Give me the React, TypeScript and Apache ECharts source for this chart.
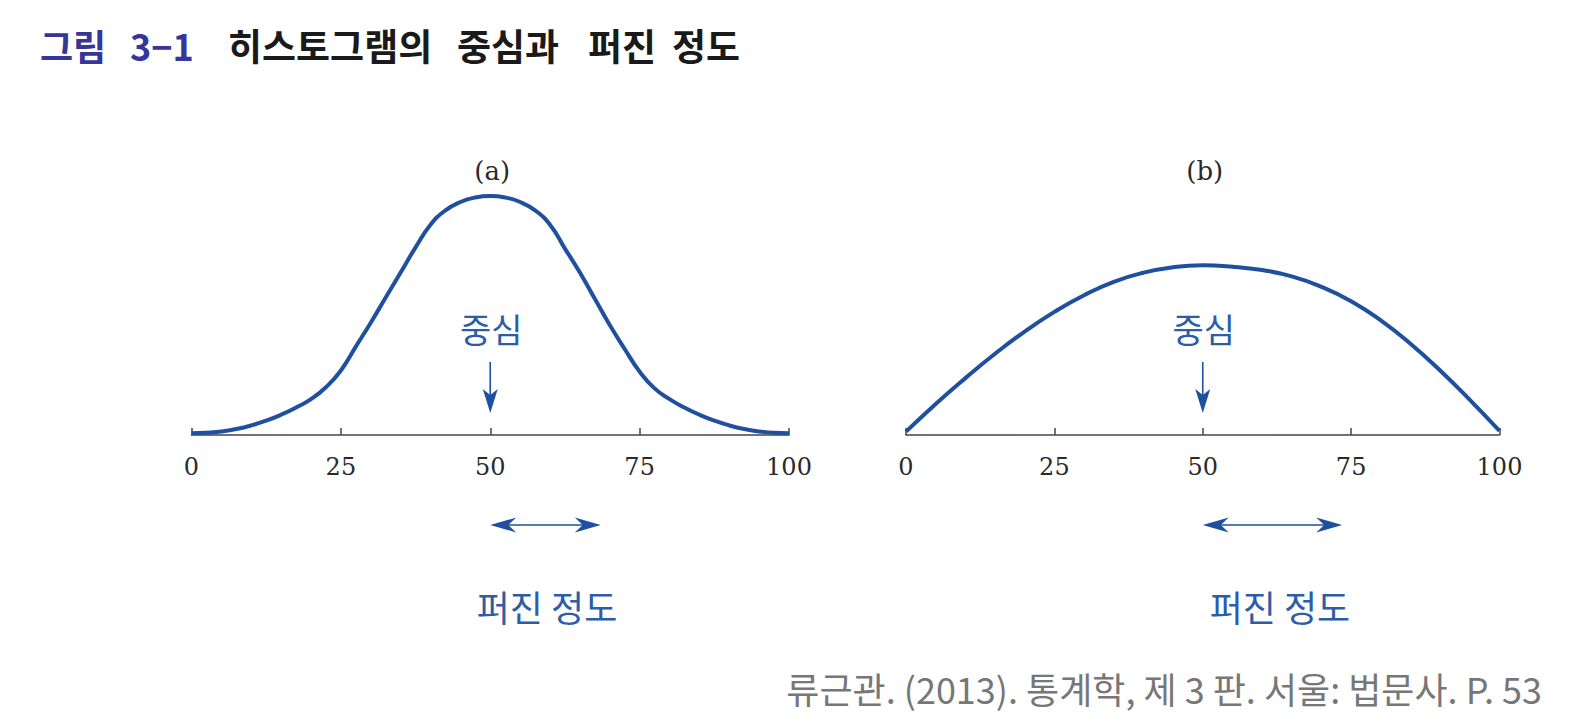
import React, { useEffect, useRef } from "react";
import * as echarts from "echarts";

const xsA = [
  0, 2.5, 5, 7.5, 10, 12.5, 15, 17.5, 20, 22.5, 25, 27.5, 30, 32.5, 35, 37.5, 40, 42.5, 45, 47.5, 50,
  52.5, 55, 57.5, 60, 62.5, 65, 67.5, 70, 72.5, 75, 77.5, 80, 82.5, 85, 87.5, 90, 92.5, 95, 97.5, 100,
];
const curveA = [
  0.7, 0.9, 1.5, 2.5, 4, 6, 8.5, 11.5, 15, 20, 27, 37, 47, 57.5, 68, 78.5, 88, 94, 97.5, 99.4, 100,
  99.4, 97.5, 94, 88, 78, 68, 57, 46, 36, 26.5, 19.5, 15, 11.5, 8.5, 6, 4, 2.5, 1.5, 0.9, 0.7,
];
const xsB = [0, 5, 10, 15, 20, 25, 30, 35, 40, 45, 50, 55, 60, 65, 70, 75, 80, 85, 90, 95, 100];
const curveB = [1.4, 13.0, 23.8, 34.0, 43.3, 51.5, 58.5, 64.1, 67.9, 70.2, 71, 70.4, 69.0, 66.4, 62.0, 56.0, 48.0, 38.2, 27.0, 14.7, 1.7];
const tickValues = [0, 25, 50, 75, 100];
const panelLabels = ["(a)", "(b)"];
const centerValue = 50;
const spreadA = [50, 68.5];
const spreadB = [50, 73.5];
const spreadLabelX = [59.5, 63];
const titleNo = ["그림", "3−1"];
const titleWords = ["히스토그램의", "중심과", "퍼진", "정도"];
const centerText = "중심";
const spreadText = "퍼진 정도";
const sourceText = "류근관. (2013). 통계학, 제 3 판. 서울: 법문사. P. 53";

const BLUE = "#1f4f9f";
const TBLUE = "#2d5ca8";
const KR = "'Noto Sans CJK KR', 'Noto Sans', sans-serif";
const SERIF = "'DejaVu Serif', 'Liberation Serif', serif";

export default function App() {
  const ref = useRef<HTMLDivElement>(null);
  useEffect(() => {
    document.body.style.margin = "0";
    const chart = echarts.init(ref.current!, null, { renderer: "svg" });
    const mkX = (i: number) => ({
      type: "value",
      gridIndex: i,
      min: 0,
      max: 100,
      interval: 25,
      axisLine: { show: true, onZero: false, lineStyle: { color: "#444", width: 1.5 } },
      axisTick: { show: true, inside: true, length: 7, lineStyle: { color: "#444", width: 1.5 } },
      axisLabel: {
        show: true,
        margin: 20,
        fontFamily: SERIF,
        fontSize: 24,
        color: "#2a2a2a",
        formatter: (v: number) => (tickValues.includes(v) ? String(v) : ""),
      },
      splitLine: { show: false },
    });
    const mkY = (i: number) => ({
      type: "value",
      gridIndex: i,
      min: 0,
      max: 100,
      show: false,
      splitLine: { show: false },
    });
    chart.setOption({
      animation: false,
      grid: [
        { left: 191.5, width: 597.5, top: 196, height: 239 },
        { left: 906, width: 593.5, top: 196, height: 239 },
      ],
      xAxis: [mkX(0), mkX(1)],
      yAxis: [mkY(0), mkY(1)],
      series: [
        {
          type: "line",
          xAxisIndex: 0,
          yAxisIndex: 0,
          data: xsA.map((x, i) => [x, curveA[i]]),
          smooth: 0.5,
          showSymbol: false,
          lineStyle: { color: BLUE, width: 4 },
        },
        {
          type: "line",
          xAxisIndex: 1,
          yAxisIndex: 1,
          data: xsB.map((x, i) => [x, curveB[i]]),
          smooth: 0.5,
          showSymbol: false,
          lineStyle: { color: BLUE, width: 4 },
        },
      ],
    });

    const px = (g: number, x: number) => chart.convertToPixel({ xAxisIndex: g }, x) as number;
    const graphics: any[] = [];
    const downArrow = (cx: number) => {
      graphics.push({ type: "line", shape: { x1: cx, y1: 362, x2: cx, y2: 398 }, style: { stroke: BLUE, lineWidth: 1.6 } });
      graphics.push({
        type: "polygon",
        shape: { points: [[cx, 413], [cx - 7.5, 389], [cx, 395], [cx + 7.5, 389]] },
        style: { fill: BLUE },
      });
    };
    const dblArrow = (x0: number, x1: number, y: number) => {
      graphics.push({ type: "line", shape: { x1: x0 + 15, y1: y, x2: x1 - 15, y2: y }, style: { stroke: BLUE, lineWidth: 1.6 } });
      graphics.push({
        type: "polygon",
        shape: { points: [[x0, y], [x0 + 26, y - 7.5], [x0 + 18, y], [x0 + 26, y + 7.5]] },
        style: { fill: BLUE },
      });
      graphics.push({
        type: "polygon",
        shape: { points: [[x1, y], [x1 - 26, y - 7.5], [x1 - 18, y], [x1 - 26, y + 7.5]] },
        style: { fill: BLUE },
      });
    };
    const spreads = [spreadA, spreadB];
    [0, 1].forEach((g) => {
      const cx = px(g, centerValue);
      graphics.push({
        type: "text",
        x: cx + 2,
        y: 171,
        style: { text: panelLabels[g], font: `26px ${SERIF}`, fill: "#2a2a2a", align: "center", verticalAlign: "middle" },
      });
      graphics.push({
        type: "text",
        x: cx + 1,
        y: 328,
        style: { text: centerText, font: `34px ${KR}`, fill: TBLUE, align: "center", verticalAlign: "middle" },
      });
      downArrow(cx);
      dblArrow(px(g, spreads[g][0]), px(g, spreads[g][1]), 525);
      graphics.push({
        type: "text",
        x: px(g, spreadLabelX[g]),
        y: 606,
        style: { text: spreadText, font: `36px ${KR}`, fill: TBLUE, align: "center", verticalAlign: "middle" },
      });
    });
    // title
    const noX = [40, 130];
    titleNo.forEach((w, i) => {
      graphics.push({
        type: "text",
        x: noX[i],
        y: 45,
        style: { text: w, font: `bold 36px ${KR}`, fill: "#36369a", align: "left", verticalAlign: "middle" },
      });
    });
    const wordX = [228, 457, 588, 672];
    titleWords.forEach((w, i) => {
      graphics.push({
        type: "text",
        x: wordX[i],
        y: 45,
        style: { text: w, font: `bold 37px ${KR}`, fill: "#1a1a1a", align: "left", verticalAlign: "middle" },
      });
    });
    graphics.push({
      type: "text",
      x: 1542,
      y: 688,
      style: {
        text: sourceText,
        font: `36px ${KR}`,
        fill: "#777777",
        align: "right",
        verticalAlign: "middle",
      },
    });
    chart.setOption({ graphic: graphics });
    return () => chart.dispose();
  }, []);
  return <div ref={ref} style={{ width: 1580, height: 724 }} />;
}
